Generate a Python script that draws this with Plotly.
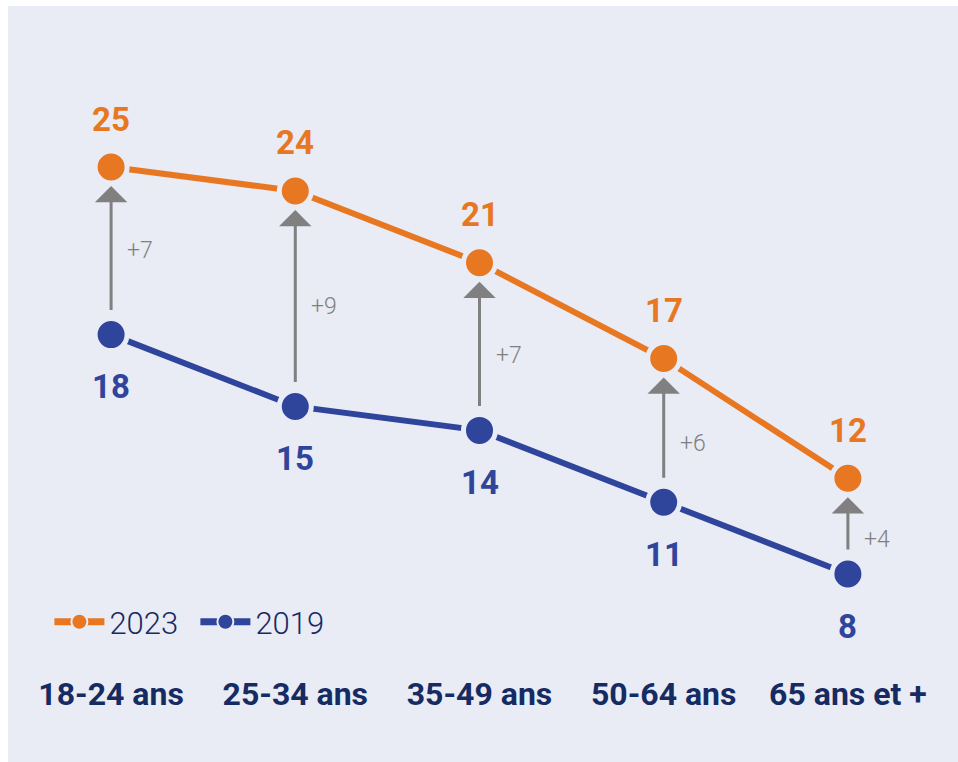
import plotly.graph_objects as go

categories = ["18-24 ans", "25-34 ans", "35-49 ans", "50-64 ans", "65 ans et +"]
values_2023 = [25, 24, 21, 17, 12]
values_2019 = [18, 15, 14, 11, 8]

ORANGE = "#E87722"
BLUE = "#2F449B"
NAVY = "#172B63"
GRAY = "#808080"
BG = "#E9EBF5"
FONT = "Roboto, sans-serif"

# small vertical nudges (px) for the difference labels
diff_label_nudge = [0, -8, -9, -13, -13]

fig = go.Figure()

for name, vals, col in [("2023", values_2023, ORANGE), ("2019", values_2019, BLUE)]:
    fig.add_trace(go.Scatter(
        x=categories, y=vals, mode="lines+markers", name=name, showlegend=False,
        line=dict(color=col, width=6),
        marker=dict(size=32, color=col, line=dict(color=BG, width=5)),
        cliponaxis=False,
    ))
    # legend-only entry
    fig.add_trace(go.Scatter(
        x=[None], y=[None], mode="lines+markers", name=name,
        line=dict(color=col, width=7),
        marker=dict(size=16, color=col, line=dict(color=BG, width=2)),
    ))

annotations = []
for i, c in enumerate(categories):
    a, b = values_2023[i], values_2019[i]
    annotations.append(dict(
        x=c, y=a, ax=c, ay=b, xref="x", yref="y", axref="x", ayref="y",
        text="", showarrow=True, arrowhead=1, arrowsize=1.8, arrowwidth=3,
        arrowcolor=GRAY, standoff=19, startstandoff=23,
    ))
    annotations.append(dict(
        x=c, y=(a + b) / 2, xref="x", yref="y", text="+%d" % (a - b),
        showarrow=False, xanchor="left", xshift=14, yshift=diff_label_nudge[i],
        font=dict(family=FONT, size=23, color=GRAY, weight=300),
    ))
    annotations.append(dict(
        x=c, y=a, xref="x", yref="y", text="%d" % a, showarrow=False,
        yshift=48, font=dict(family=FONT, size=33, color=ORANGE, weight="bold"),
    ))
    annotations.append(dict(
        x=c, y=b, xref="x", yref="y", text="%d" % b, showarrow=False,
        yshift=-52, font=dict(family=FONT, size=33, color=BLUE, weight="bold"),
    ))

fig.update_layout(
    width=950, height=756,
    margin=dict(l=11, r=18, t=0, b=102),
    paper_bgcolor=BG, plot_bgcolor=BG,
    showlegend=True,
    legend=dict(
        orientation="h", x=0.033, y=0.058, xanchor="left", yanchor="middle",
        bgcolor="rgba(0,0,0,0)", font=dict(family=FONT, size=31, color=NAVY, weight=300),
        itemwidth=50, entrywidth=81, traceorder="normal",
    ),
    xaxis=dict(
        type="category", range=[-0.5, 4.5], showgrid=False, zeroline=False,
        showline=False, ticks="outside", ticklen=6, tickcolor="rgba(0,0,0,0)",
        tickangle=0, automargin=False,
        tickfont=dict(family=FONT, size=32, color=NAVY, weight="bold"),
    ),
    yaxis=dict(range=[4.41, 31.725], visible=False, automargin=False),
    annotations=annotations,
)

fig.write_html(
    "out.html",
    post_script="document.body.style.margin='6px 0 0 8px';document.body.style.overflow='hidden';",
)
